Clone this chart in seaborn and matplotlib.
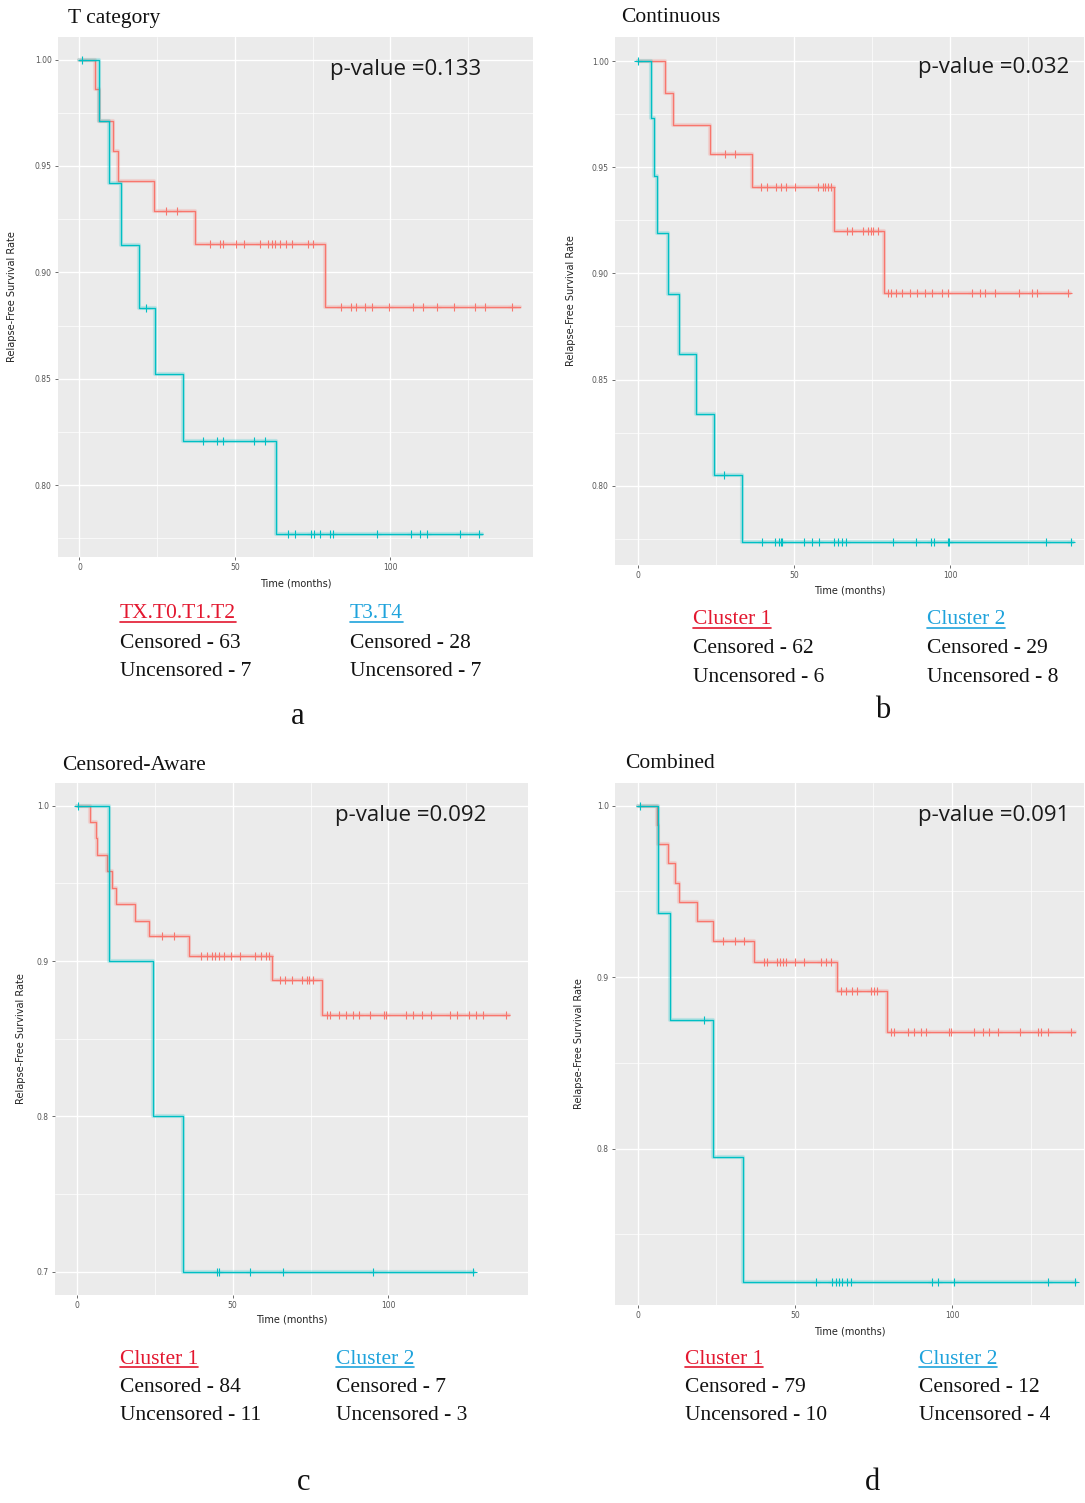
import numpy as np
import pandas as pd
import matplotlib
matplotlib.use("Agg")
import matplotlib.pyplot as plt
from matplotlib.lines import Line2D
from matplotlib.ticker import FixedLocator
import seaborn as sns

# Kaplan-Meier curves (event times in months, survival after each event)
a_red_events = [5.1, 6.4, 10.9, 12.3, 23.9, 37.1, 79.0]
a_red_surv = [0.986, 0.971, 0.957, 0.943, 0.929, 0.9135, 0.8835]
a_red_cens = [27.8, 31.4, 41.9, 45.2, 46.1, 50.2, 53.0, 58.0, 60.8, 61.9, 63.0, 64.6, 66.3, 68.5,
              73.5, 75.2, 84.0, 87.4, 89.0, 91.8, 94.0, 99.6, 107.3, 110.6, 115.1, 120.6, 127.3,
              130.6, 139.0]
a_red_end = 141.7
a_cyan_events = [6.2, 9.5, 13.3, 19.0, 24.4, 33.4, 63.2]
a_cyan_surv = [0.971, 0.942, 0.913, 0.883, 0.852, 0.8205, 0.777]
a_cyan_cens = [0.8, 21.4, 39.9, 44.1, 46.1, 56.1, 59.6, 67.2, 69.4, 74.6, 75.4, 77.4, 80.7, 81.6,
               95.7, 106.8, 109.5, 111.8, 122.3, 128.4]
a_cyan_end = 129.5

b_red_events = [8.6, 11.0, 23.0, 36.4, 62.8, 78.9]
b_red_surv = [0.985, 0.970, 0.956, 0.9405, 0.920, 0.891]
b_red_cens = [27.7, 31.0, 39.4, 41.4, 44.3, 45.9, 47.5, 50.2, 57.7, 59.3, 60.0, 60.9, 61.9, 66.8,
              68.4, 72.1, 73.7, 74.6, 75.3, 77.0, 80.2, 81.2, 82.8, 84.5, 87.1, 89.3, 92.0, 94.1,
              97.3, 99.5, 107.0, 109.7, 111.3, 114.5, 122.0, 126.3, 127.9, 138.0]
b_red_end = 138.5
b_cyan_events = [3.9, 5.1, 5.9, 9.6, 13.0, 18.5, 24.2, 33.3]
b_cyan_surv = [0.973, 0.946, 0.919, 0.8905, 0.862, 0.834, 0.805, 0.7735]
b_cyan_cens = [0.0, 27.4, 39.8, 44.0, 45.1, 45.7, 46.2, 53.2, 55.8, 58.0, 62.8, 63.9, 65.5, 66.6,
               81.6, 89.1, 93.9, 95.0, 99.3, 99.8, 130.9, 138.9]
b_cyan_end = 139.4

c_red_events = [4.3, 6.0, 6.6, 9.7, 11.4, 12.7, 18.6, 23.3, 36.1, 62.7, 78.7]
c_red_surv = [0.9895, 0.979, 0.968, 0.958, 0.947, 0.937, 0.926, 0.916, 0.903, 0.888, 0.865]
c_red_cens = [27.2, 31.1, 40.0, 41.7, 43.4, 44.5, 45.6, 47.3, 49.5, 52.3, 57.3, 59.0, 60.6, 61.8,
              65.1, 66.8, 69.0, 72.4, 73.8, 74.6, 75.7, 80.2, 81.3, 84.1, 86.3, 88.5, 90.7, 94.1,
              98.6, 99.1, 105.8, 108.0, 110.8, 113.6, 119.7, 122.0, 125.9, 128.1, 130.3, 137.6]
c_red_end = 138.7
c_cyan_events = [10.3, 24.5, 34.0]
c_cyan_surv = [0.9, 0.8, 0.7]
c_cyan_cens = [0.4, 45.0, 45.6, 55.6, 66.2, 95.2, 127.0]
c_cyan_end = 127.5

d_red_events = [6.1, 6.6, 9.6, 11.9, 13.3, 18.8, 24.1, 36.9, 63.3, 79.3]
d_red_surv = [0.9888, 0.9775, 0.9663, 0.955, 0.9438, 0.9326, 0.9213, 0.909, 0.892, 0.868]
d_red_cens = [27.3, 31.1, 33.9, 40.1, 41.2, 44.4, 45.4, 46.3, 47.3, 50.2, 52.9, 58.2, 59.8, 61.4,
              64.6, 66.2, 68.3, 69.9, 74.1, 75.2, 76.3, 80.5, 81.6, 85.9, 88.0, 90.1, 91.7, 99.1,
              99.7, 107.1, 109.8, 111.9, 114.6, 121.5, 127.3, 128.4, 130.5, 138.0]
d_red_end = 139.0
d_cyan_events = [6.4, 10.3, 23.9, 33.5]
d_cyan_surv = [0.9375, 0.875, 0.795, 0.7225]
d_cyan_cens = [0.7, 21.0, 56.6, 61.9, 63.0, 64.0, 65.1, 66.7, 67.8, 93.8, 95.4, 100.7, 130.7, 139.0]
d_cyan_end = 139.6

titles = ["T category", "Continuous", "Censored-Aware", "Combined"]
p_values = ["0.133", "0.032", "0.092", "0.091"]
group_names = [["TX.T0.T1.T2", "T3.T4"], ["Cluster 1", "Cluster 2"],
               ["Cluster 1", "Cluster 2"], ["Cluster 1", "Cluster 2"]]
censored = [[63, 28], [62, 29], [84, 7], [79, 12]]
uncensored = [[7, 7], [6, 8], [11, 3], [10, 4]]
panel_letters = ["a", "b", "c", "d"]

RED = "#F8766D"
CYAN = "#00BFC4"
W, H = 1085, 1503

sns.set_theme(style="darkgrid", rc={"axes.facecolor": "#EBEBEB", "grid.color": "white"})
plt.rcParams["font.family"] = ["DejaVu Sans"]

fig = plt.figure(figsize=(W / 100, H / 100), dpi=100)
fig.patch.set_facecolor("white")


def fx(x):
    return x / W


def fy(y):
    return 1 - y / H


def km_frame(events, surv, end):
    t = [0.0] + list(events) + [end]
    s = [1.0] + list(surv) + [surv[-1]]
    return pd.DataFrame({"time": t, "surv": s})


def cens_frame(events, surv, cens):
    ev = np.array(events)
    sv = np.array(surv)
    levels = [1.0 if (ev <= c).sum() == 0 else sv[(ev <= c).sum() - 1] for c in cens]
    return pd.DataFrame({"time": cens, "surv": levels})


def draw_curve(ax, events, surv, cens, end, color):
    df = km_frame(events, surv, end)
    sns.lineplot(data=df, x="time", y="surv", ax=ax, color=color, lw=3, alpha=0.2,
                 drawstyle="steps-post", estimator=None, sort=False)
    sns.lineplot(data=df, x="time", y="surv", ax=ax, color=color, lw=1.0,
                 drawstyle="steps-post", estimator=None, sort=False)
    cf = cens_frame(events, surv, cens)
    sns.scatterplot(data=cf, x="time", y="surv", ax=ax, color=color, marker="+", s=36,
                    linewidth=0.8, zorder=5)


panels = [
    dict(box=(58, 37, 533, 557), xlim=(-6.9, 145.9), ylim=(0.7662, 1.0106),
         yticks=[0.80, 0.85, 0.90, 0.95, 1.00], fmt="{:.2f}",
         curves=[(a_red_events, a_red_surv, a_red_cens, a_red_end, RED),
                 (a_cyan_events, a_cyan_surv, a_cyan_cens, a_cyan_end, CYAN)],
         title_xy=(68, 18), p_xy=(330, 70), ylab_x=13, xlab_y=583,
         leg_x=(120, 350), leg_y=(614, 643, 671), letter_xy=(298, 717)),
    dict(box=(615, 37, 1084, 565), xlim=(-7.5, 143.0), ylim=(0.7627, 1.0113),
         yticks=[0.80, 0.85, 0.90, 0.95, 1.00], fmt="{:.2f}",
         curves=[(b_red_events, b_red_surv, b_red_cens, b_red_end, RED),
                 (b_cyan_events, b_cyan_surv, b_cyan_cens, b_cyan_end, CYAN)],
         title_xy=(621, 18), p_xy=(918, 68), ylab_x=572, xlab_y=591,
         leg_x=(693, 927), leg_y=(620, 648, 677), letter_xy=(883, 710)),
    dict(box=(55, 783, 528, 1295), xlim=(-7.0, 144.8), ylim=(0.685, 1.0146),
         yticks=[0.7, 0.8, 0.9, 1.0], fmt="{:.1f}",
         curves=[(c_red_events, c_red_surv, c_red_cens, c_red_end, RED),
                 (c_cyan_events, c_cyan_surv, c_cyan_cens, c_cyan_end, CYAN)],
         title_xy=(62, 765), p_xy=(335, 816), ylab_x=22, xlab_y=1320,
         leg_x=(120, 336), leg_y=(1359, 1387, 1415), letter_xy=(304, 1483)),
    dict(box=(615, 783, 1084, 1305), xlim=(-7.2, 142.0), ylim=(0.7089, 1.0132),
         yticks=[0.8, 0.9, 1.0], fmt="{:.1f}",
         curves=[(d_red_events, d_red_surv, d_red_cens, d_red_end, RED),
                 (d_cyan_events, d_cyan_surv, d_cyan_cens, d_cyan_end, CYAN)],
         title_xy=(625, 764), p_xy=(918, 816), ylab_x=580, xlab_y=1332,
         leg_x=(685, 919), leg_y=(1359, 1387, 1415), letter_xy=(873, 1483)),
]

serif = ["Liberation Serif", "DejaVu Serif"]
headers = []

for i, p in enumerate(panels):
    x0, y0, x1, y1 = p["box"]
    ax = fig.add_axes([fx(x0), fy(y1), (x1 - x0) / W, (y1 - y0) / H])
    for ev, sv, cn, end, col in p["curves"]:
        draw_curve(ax, ev, sv, cn, end, col)
    ax.set_xlim(*p["xlim"])
    ax.set_ylim(*p["ylim"])
    ax.set_xticks([0, 50, 100])
    ax.set_xticklabels(["0", "50", "100"])
    ax.set_yticks(p["yticks"])
    ax.set_yticklabels([p["fmt"].format(v) for v in p["yticks"]])
    ax.xaxis.set_minor_locator(FixedLocator([25, 75, 125]))
    yt = p["yticks"]
    step = yt[1] - yt[0]
    ax.yaxis.set_minor_locator(FixedLocator([v + step / 2 for v in [yt[0] - step] + yt]))
    ax.grid(which="major", color="white", lw=1.0)
    ax.grid(which="minor", color="white", lw=0.5)
    ax.tick_params(which="major", length=2.5, width=0.6, color="#555555",
                   labelsize=5.5, labelcolor="#555555", pad=2, bottom=True, left=True)
    ax.tick_params(which="minor", length=0)
    for s in ax.spines.values():
        s.set_visible(False)
    ax.set_xlabel("Time (months)", fontsize=7, color="#222222")
    ax.set_ylabel("Relapse-Free Survival Rate", fontsize=7, color="#222222")
    ax.xaxis.set_label_coords(0.5, (y1 - (p["xlab_y"] - 5)) / (y1 - y0))
    ax.yaxis.set_label_coords((p["ylab_x"] + 4 - x0) / (x1 - x0), 0.5)

    tx, ty = p["title_xy"]
    fig.text(fx(tx), fy(ty), titles[i], family=serif, fontsize=15.5, ha="left", va="center",
             color="#111111")
    px_, py_ = p["p_xy"]
    fig.text(fx(px_), fy(py_), "p-value =" + p_values[i], family=["Open Sans", "DejaVu Sans"],
             fontsize=16, ha="left", va="center", color="#1a1a1a")

    for j, col in enumerate(["#E3172F", "#1FA3DC"]):
        lx = p["leg_x"][j]
        hy, cy, uy = p["leg_y"]
        t = fig.text(fx(lx), fy(hy), group_names[i][j], family=serif, fontsize=15.5,
                     ha="left", va="center", color=col)
        headers.append((t, col))
        fig.text(fx(lx), fy(cy), "Censored - %d" % censored[i][j], family=serif, fontsize=15.5,
                 ha="left", va="center", color="#111111")
        fig.text(fx(lx), fy(uy), "Uncensored - %d" % uncensored[i][j], family=serif,
                 fontsize=15.5, ha="left", va="center", color="#111111")

    lxy = p["letter_xy"]
    fig.text(fx(lxy[0]), fy(lxy[1]), panel_letters[i], family=serif, fontsize=22,
             ha="center", va="center", color="#111111")

# underline the group headers
fig.canvas.draw()
renderer = fig.canvas.get_renderer()
for t, col in headers:
    bb = t.get_window_extent(renderer)
    yline = (bb.y0 + 2) / H
    fig.add_artist(Line2D([bb.x0 / W, bb.x1 / W], [yline, yline], color=col, lw=1.2))

fig.savefig("out.png", dpi=100, facecolor="white")
